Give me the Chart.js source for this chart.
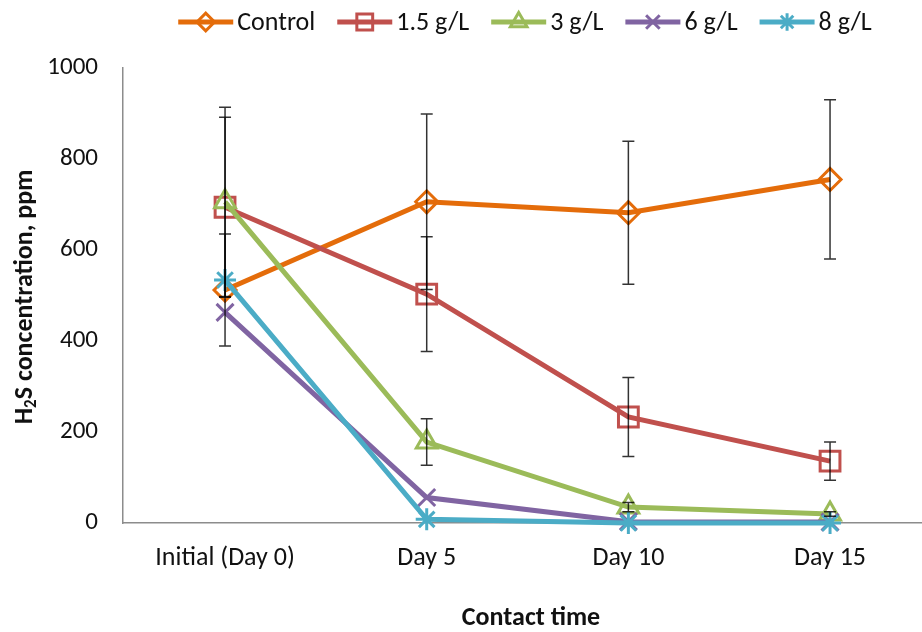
<!DOCTYPE html>
<html>
<head>
<meta charset="utf-8">
<script src="https://cdn.jsdelivr.net/npm/chart.js@4/dist/chart.umd.min.js"></script>
<style>
  html, body { margin: 0; padding: 0; background: #fff; }
  #wrap { width: 922px; height: 632px; }
</style>
</head>
<body>
<div id="wrap"><canvas id="h2sChart" width="922" height="632"></canvas></div>
<script>
// Contact time categories and tick labels
const categories = ['Initial (Day 0)', 'Day 5', 'Day 10', 'Day 15'];
const yTicks = [0, 200, 400, 600, 800, 1000];
const seriesLabels = ['Control', '1.5 g/L', '3 g/L', '6 g/L', '8 g/L'];

// H2S concentration (ppm) per dose
const control = [512, 706, 682, 755];
const dose15 = [694, 503, 233, 136];
const dose3 = [706, 178, 35, 20];
const dose6 = [463, 56, 3, 2];
const dose8 = [534, 8, 0, 0];

// Error bar half widths (ppm), null where no bar
const controlErr = [123, 193, 157, 175];
const dose15Err = [198, 126, 87, 42];
const dose3Err = [208, 51, 10, 5];
const dose6Err = [null, null, null, null];
const dose8Err = [null, null, null, null];

const FONT = 'Carlito, Lato, sans-serif';

const colors = ['#E46C0A', '#C0504D', '#9BBB59', '#8064A2', '#4BACC6'];
const styles = ['rectRot', 'rect', 'triangle', 'crossRot', 'star'];
const radii = [11, 14, 12, 12, 11];
const values = [control, dose15, dose3, dose6, dose8];
const errors = [controlErr, dose15Err, dose3Err, dose6Err, dose8Err];

const datasets = seriesLabels.map((label, i) => ({
  label: label,
  data: values[i].map((v, k) => ({ x: k, y: v })),
  errors: errors[i],
  borderColor: colors[i],
  backgroundColor: 'rgba(0,0,0,0)',
  borderWidth: 5,
  pointStyle: styles[i],
  pointRadius: radii[i],
  pointBorderWidth: 3,
  pointBorderColor: colors[i],
  pointBackgroundColor: 'rgba(0,0,0,0)',
  tension: 0,
  clip: false,
  order: 5 - i
}));

// Vertical error bars with caps
const errorBars = {
  id: 'errorBars',
  afterDatasetsDraw(chart) {
    const ctx = chart.ctx;
    const y = chart.scales.y;
    ctx.save();
    ctx.strokeStyle = 'rgba(0,0,0,0.8)';
    ctx.lineWidth = 1.5;
    chart.data.datasets.forEach((ds, i) => {
      const meta = chart.getDatasetMeta(i);
      meta.data.forEach((pt, k) => {
        const e = ds.errors[k];
        if (e == null) return;
        const v = ds.data[k].y;
        const top = y.getPixelForValue(v + e);
        const bot = y.getPixelForValue(Math.max(v - e, 0));
        ctx.beginPath();
        ctx.moveTo(pt.x, top);
        ctx.lineTo(pt.x, bot);
        ctx.moveTo(pt.x - 6, top);
        ctx.lineTo(pt.x + 6, top);
        ctx.moveTo(pt.x - 6, bot);
        ctx.lineTo(pt.x + 6, bot);
        ctx.stroke();
      });
    });
    ctx.restore();
  }
};

// Legend row (line + marker + name) and axis titles
const decorations = {
  id: 'decorations',
  afterDraw(chart) {
    const ctx = chart.ctx;
    ctx.save();

    // legend
    ctx.font = '26px ' + FONT;
    ctx.textBaseline = 'middle';
    const swatch = 55, gap = 4, spacing = 22;
    const items = chart.data.datasets.map(ds => ({ ds, w: swatch + gap + ctx.measureText(ds.label).width }));
    const total = items.reduce((s, it) => s + it.w, 0) + spacing * (items.length - 1);
    let x = 525 - total / 2;
    const ly = 22;
    items.forEach(({ ds, w }) => {
      ctx.strokeStyle = ds.borderColor;
      ctx.lineWidth = 5;
      ctx.beginPath();
      ctx.moveTo(x, ly);
      ctx.lineTo(x + swatch, ly);
      ctx.stroke();
      ctx.lineWidth = 3;
      ctx.fillStyle = 'rgba(0,0,0,0)';
      Chart.helpers.drawPoint(ctx, {
        pointStyle: ds.pointStyle,
        radius: ds.pointRadius * 0.8,
        borderWidth: 3,
        rotation: 0
      }, x + swatch / 2, ly);
      ctx.fillStyle = '#111';
      ctx.textAlign = 'left';
      ctx.fillText(ds.label, x + swatch + gap, ly + 1);
      x += w + spacing;
    });

    // x axis title
    ctx.font = 'bold 26px ' + FONT;
    ctx.fillStyle = '#111';
    ctx.textAlign = 'center';
    ctx.fillText('Contact time', 531, 618);

    // y axis title with subscript
    ctx.translate(25, 297);
    ctx.rotate(-Math.PI / 2);
    const big = 'bold 26px ' + FONT;
    const small = 'bold 17px ' + FONT;
    ctx.font = big;
    const wH = ctx.measureText('H').width;
    const wRest = ctx.measureText('S concentration, ppm').width;
    ctx.font = small;
    const w2 = ctx.measureText('2').width;
    let tx = -(wH + w2 + wRest) / 2;
    ctx.textAlign = 'left';
    ctx.font = big;
    ctx.fillText('H', tx, 0);
    tx += wH;
    ctx.font = small;
    ctx.fillText('2', tx, 7);
    tx += w2;
    ctx.font = big;
    ctx.fillText('S concentration, ppm', tx, 0);
    ctx.restore();
  }
};

new Chart(document.getElementById('h2sChart'), {
  type: 'line',
  data: { datasets: datasets },
  plugins: [errorBars, decorations],
  options: {
    responsive: false,
    animation: false,
    layout: { autoPadding: false, padding: { top: 68, left: 0, right: 0, bottom: 0 } },
    plugins: {
      legend: { display: false },
      tooltip: { enabled: false }
    },
    scales: {
      x: {
        type: 'linear',
        min: -0.506,
        max: 3.456,
        afterBuildTicks(scale) {
          scale.ticks = categories.map((c, k) => ({ value: k }));
        },
        afterFit(scale) {
          scale.height = 109;
          scale.paddingLeft = 0;
          scale.paddingRight = 0;
        },
        grid: { display: false, drawTicks: false },
        border: { display: true, color: '#8c8c8c', width: 1.5 },
        ticks: {
          padding: 20,
          color: '#111',
          font: { family: FONT, size: 26 },
          callback: (v) => categories[v]
        }
      },
      y: {
        min: 0,
        max: 1000,
        afterBuildTicks(scale) {
          scale.ticks = yTicks.map(v => ({ value: v }));
        },
        afterFit(scale) { scale.width = 123; },
        grid: { display: false, drawTicks: false },
        border: { display: true, color: '#8c8c8c', width: 1.5 },
        ticks: {
          padding: 25,
          color: '#111',
          font: { family: FONT, size: 25 },
          callback: (v) => String(v)
        }
      }
    }
  }
});
</script>
</body>
</html>
